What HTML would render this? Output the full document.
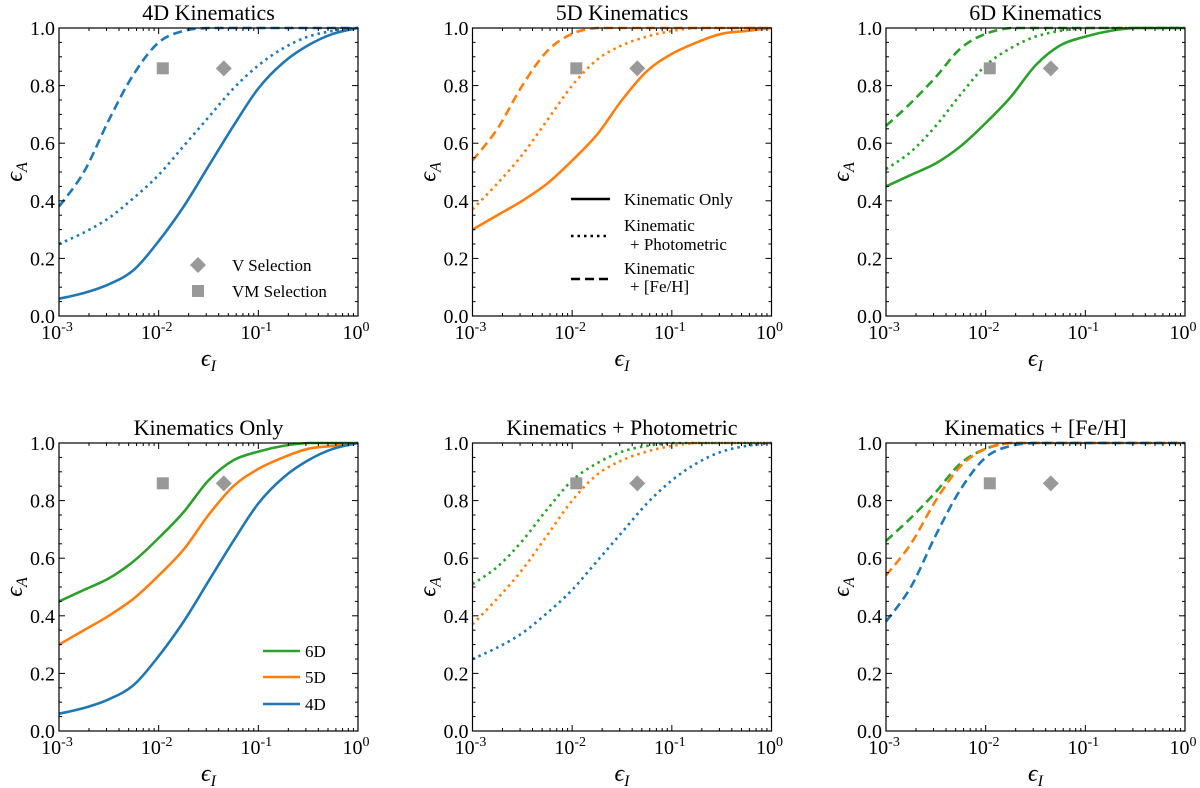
<!DOCTYPE html>
<html><head><meta charset="utf-8"><style>
body{margin:0;background:#fff;}
svg{display:block;font-family:"Liberation Serif","DejaVu Serif",serif;}
</style></head><body>
<svg id="fig" width="1200" height="788" viewBox="0 0 1200 788"></svg>
<script>
const logX = [-3,-2.75,-2.5,-2.25,-2,-1.75,-1.5,-1.25,-1,-0.75,-0.5,-0.25,0];
const s4 = [0.06,0.08,0.11,0.16,0.26,0.38,0.52,0.66,0.79,0.88,0.94,0.98,1.0];
const d4 = [0.25,0.29,0.34,0.41,0.49,0.59,0.69,0.79,0.87,0.93,0.97,0.99,1.0];
const h4 = [0.38,0.50,0.68,0.84,0.95,0.99,1.0,1.0,1.0,1.0,1.0,1.0,1.0];
const s5 = [0.30,0.35,0.40,0.46,0.54,0.63,0.75,0.85,0.91,0.95,0.98,0.99,1.0];
const d5 = [0.37,0.46,0.56,0.68,0.80,0.89,0.94,0.97,0.99,1.0,1.0,1.0,1.0];
const h5 = [0.54,0.65,0.80,0.92,0.98,1.0,1.0,1.0,1.0,1.0,1.0,1.0,1.0];
const s6 = [0.45,0.49,0.53,0.59,0.67,0.76,0.87,0.94,0.97,0.99,1.0,1.0,1.0];
const d6 = [0.51,0.57,0.66,0.77,0.87,0.93,0.97,0.99,1.0,1.0,1.0,1.0,1.0];
const h6 = [0.66,0.74,0.83,0.93,0.98,1.0,1.0,1.0,1.0,1.0,1.0,1.0,1.0];
const markerX = [0.011,0.045];
const markerY = [0.86,0.86];
const yTicks = ["0.0","0.2","0.4","0.6","0.8","1.0"];
const xTickExp = ["-3","-2","-1","0"];
const titles = ["4D Kinematics","5D Kinematics","6D Kinematics","Kinematics Only","Kinematics + Photometric","Kinematics + [Fe/H]"];

const C4="#1f77b4",C5="#ff7f0e",C6="#2ca02c";
const DASH={solid:"",dot:"2.5 4",dash:"9 5"};
const panels=[
 [[s4,C4,"solid"],[d4,C4,"dot"],[h4,C4,"dash"]],
 [[s5,C5,"solid"],[d5,C5,"dot"],[h5,C5,"dash"]],
 [[s6,C6,"solid"],[d6,C6,"dot"],[h6,C6,"dash"]],
 [[s6,C6,"solid"],[s5,C5,"solid"],[s4,C4,"solid"]],
 [[d6,C6,"dot"],[d5,C5,"dot"],[d4,C4,"dot"]],
 [[h6,C6,"dash"],[h5,C5,"dash"],[h4,C4,"dash"]]
];
const NS="http://www.w3.org/2000/svg";
const svg=document.getElementById('fig');
function mk(tag,attrs,parent,text){const e=document.createElementNS(NS,tag);for(const k in attrs)e.setAttribute(k,attrs[k]);if(text!==undefined)e.textContent=text;(parent||svg).appendChild(e);return e;}
function smooth(pts){let d='M'+pts[0][0].toFixed(1)+','+pts[0][1].toFixed(1);
 for(let i=0;i<pts.length-1;i++){const p0=pts[Math.max(0,i-1)],p1=pts[i],p2=pts[i+1],p3=pts[Math.min(pts.length-1,i+2)];
  let c1y=p1[1]+(p2[1]-p0[1])/6,c2y=p2[1]-(p3[1]-p1[1])/6;
  const lo=Math.min(p1[1],p2[1]),hi=Math.max(p1[1],p2[1]);c1y=Math.min(hi,Math.max(lo,c1y));c2y=Math.min(hi,Math.max(lo,c2y));
  d+='C'+(p1[0]+(p2[0]-p0[0])/6).toFixed(1)+','+c1y.toFixed(1)+' '+(p2[0]-(p3[0]-p1[0])/6).toFixed(1)+','+c2y.toFixed(1)+' '+p2[0].toFixed(1)+','+p2[1].toFixed(1);}
 return d;}
const W=299,H=288;
panels.forEach((series,i)=>{
  const L=59+(i%3)*413.5, T=i<3?28:443;
  const g=mk('g',{});
  
  
  const X=v=>L+(Math.log10(v)+3)/3*W;
  const XL=v=>L+(v+3)/3*W;
  const Y=v=>T+H-v*H;
  const t=mk('text',{x:L+W/2,y:T-8,'text-anchor':'middle','font-size':22},g,titles[i]);
  
  
  series.forEach(([ys,col,sty])=>{
    const pts=ys.map((v,k)=>[XL(logX[k]),Y(v)]);
    const p=mk('path',{d:smooth(pts),fill:'none',stroke:col,'stroke-width':2.6,'stroke-dasharray':DASH[sty],'stroke-linejoin':'round'},g);
    
    
  });
  const sq=mk('rect',{x:X(markerX[0])-6,y:Y(markerY[0])-6,width:12,height:12,fill:'#999'},g);
  
  
  const dx=X(markerX[1]),dy=Y(markerY[1]);
  const dm=mk('path',{d:`M${dx},${dy-8}L${dx+8},${dy}L${dx},${dy+8}L${dx-8},${dy}Z`,fill:'#999'},g);
  
  
  const fr=mk('rect',{x:L,y:T,width:W,height:H,fill:'none',stroke:'#000','stroke-width':1.2},g);
  
  
  for(let k=0;k<=20;k++){const v=k*0.05,y=Y(v),len=k%4===0?6:3;
    mk('line',{x1:L,x2:L+len,y1:y,y2:y,stroke:'#000'},g);mk('line',{x1:L+W,x2:L+W-len,y1:y,y2:y,stroke:'#000'},g);}
  yTicks.forEach(s=>{const tl=mk('text',{x:L-4,y:Y(parseFloat(s))+7,'text-anchor':'end','font-size':20},g,s);
    });
  for(let dec=-3;dec<=0;dec++){for(let m=1;m<=9;m++){const v=m*Math.pow(10,dec);if(v>1.0001)break;const x=X(v),len=m===1?6:3;
    mk('line',{x1:x,x2:x,y1:T+H,y2:T+H-len,stroke:'#000'},g);mk('line',{x1:x,x2:x,y1:T,y2:T+len,stroke:'#000'},g);}}
  xTickExp.forEach(e=>{const tl=mk('text',{x:XL(parseFloat(e))-2,y:T+H+23,'text-anchor':'middle','font-size':20},g);
    
    mk('tspan',{},tl,'10');mk('tspan',{dy:-8,'font-size':14},tl,e);});
  const xl=mk('text',{x:L+W/2,y:T+H+50,'text-anchor':'middle','font-size':24,'font-style':'italic'},g);
  
  mk('tspan',{},xl,'ϵ');mk('tspan',{dy:5,'font-size':16},xl,'I');
  const yl=mk('text',{x:0,y:0,'text-anchor':'middle','font-size':24,'font-style':'italic',transform:`translate(${L-37},${T+H/2}) rotate(-90)`},g);
  
  mk('tspan',{},yl,'ϵ');mk('tspan',{dy:5,'font-size':16},yl,'A');
});
(function(){const g=mk('g',{});
 mk('path',{d:'M198,257L206,265L198,273L190,265Z',fill:'#999'},g);
 mk('text',{x:232,y:271,'font-size':17},g,'V Selection');
 mk('rect',{x:192,y:285,width:12,height:12,fill:'#999'},g);
 mk('text',{x:232,y:297,'font-size':17},g,'VM Selection');})();
(function(){const g=mk('g',{});
 mk('line',{x1:571,x2:610,y1:199,y2:199,stroke:'#000','stroke-width':2.6},g);
 mk('text',{x:624,y:205,'font-size':17},g,'Kinematic Only');
 mk('line',{x1:571,x2:610,y1:236,y2:236,stroke:'#000','stroke-width':2.6,'stroke-dasharray':DASH.dot},g);
 mk('text',{x:624,y:231,'font-size':17},g,'Kinematic');
 mk('text',{x:630,y:250,'font-size':17},g,'+ Photometric');
 mk('line',{x1:571,x2:610,y1:279,y2:279,stroke:'#000','stroke-width':2.6,'stroke-dasharray':DASH.dash},g);
 mk('text',{x:624,y:274,'font-size':17},g,'Kinematic');
 mk('text',{x:630,y:292,'font-size':17},g,'+ [Fe/H]');})();
(function(){const g=mk('g',{});
 [["6D",C6,651],["5D",C5,677],["4D",C4,704]].forEach(([n,c,y])=>{
  mk('line',{x1:263,x2:300,y1:y,y2:y,stroke:c,'stroke-width':2.6},g);
  mk('text',{x:305,y:y+6,'font-size':17},g,n);});})();
</script>
</body></html>
